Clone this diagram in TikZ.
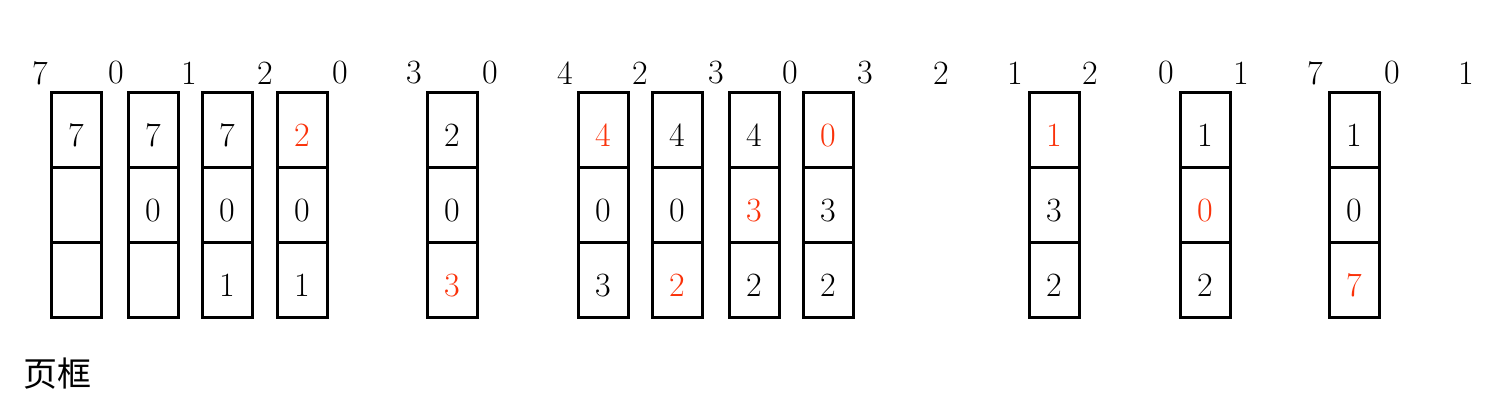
\documentclass[tikz,border=0pt]{standalone}
\usepackage{fontspec}
\newfontfamily\cjk{Noto Sans CJK SC}
\definecolor{hit}{RGB}{250,50,10}
\begin{document}
\begin{tikzpicture}[x=0.5pt,y=-0.5pt,
  refnum/.style={inner sep=0pt,font=\fontsize{17}{20}\selectfont},
  cell/.style={draw,line width=1.5pt,minimum width=25pt,minimum height=37.5pt,inner sep=0pt,
    text height=17pt,text depth=0pt,font=\fontsize{17}{20}\selectfont},
  hitc/.style={text=hit}]
\useasboundingbox (0,0) rectangle (1498,414);
% reference string
\foreach \v [count=\i] in {7,0,1,2,0,3,0,4,2,3,0,3,2,1,2,0,1,7,0,1}{
  \pgfmathsetmacro{\xx}{{40,116,189,265,340,414,490,565,640,716,790,865,941,1015,1090,1166,1241,1315,1392,1466}[\i-1]}
  \node[refnum] (r\i) at (\xx,73) {\v};
}
% frame columns: x, top, mid, bottom, styles
\foreach \xx/\a/\b/\c/\sa/\sb/\sc [count=\k] in {
  76/7/{}/{}/{}/{}/{},
  153/7/0/{}/{}/{}/{},
  227/7/0/1/{}/{}/{},
  302/2/0/1/hitc/{}/{},
  452/2/0/3/{}/{}/hitc,
  603/4/0/3/hitc/{}/{},
  677/4/0/2/{}/{}/hitc,
  754/4/3/2/{}/hitc/{},
  828/0/3/2/hitc/{}/{},
  1054/1/3/2/hitc/{}/{},
  1205/1/0/2/{}/hitc/{},
  1354/1/0/7/{}/{}/hitc}{
  \node[cell,\sa] (c\k-1) at (\xx,129.5) {\a};
  \node[cell,\sb] (c\k-2) at (\xx,204.5) {\b};
  \node[cell,\sc] (c\k-3) at (\xx,279.5) {\c};
}
\node[inner sep=0pt,anchor=west,font=\cjk\fontsize{17}{20}\selectfont] (lbl) at (23,374) {页框};
\end{tikzpicture}
\end{document}
